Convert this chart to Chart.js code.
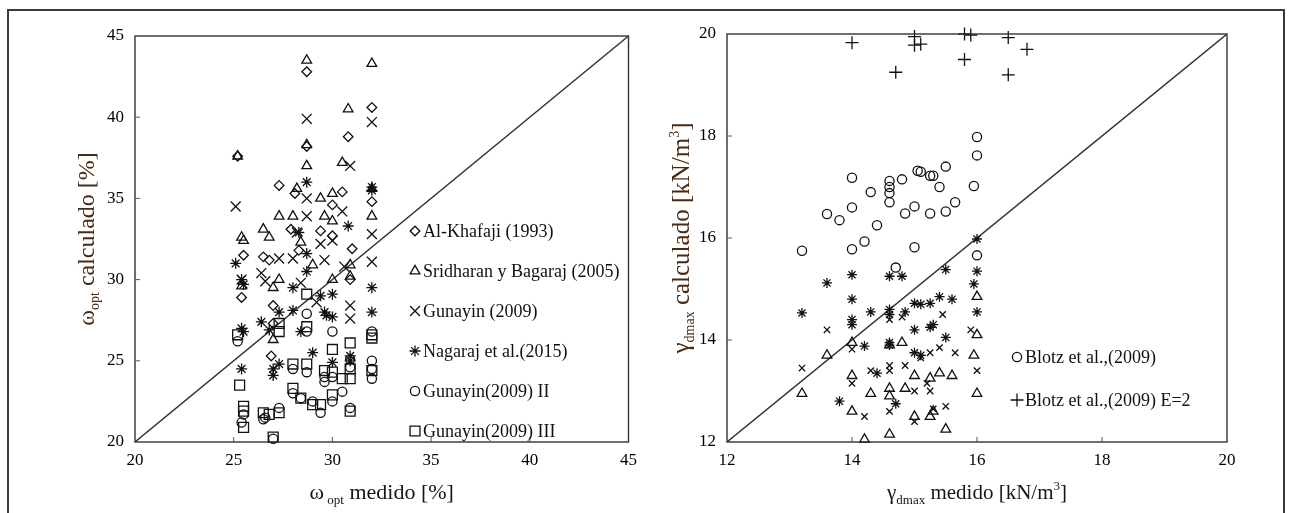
<!DOCTYPE html>
<html>
<head>
<meta charset="utf-8">
<script src="https://cdn.jsdelivr.net/npm/chart.js@4.4.1/dist/chart.umd.min.js"></script>
<style>
    body { margin: 0; background: #fff; }
    #wrap { position: relative; width: 1291px; height: 513px; overflow: hidden; background: #fff; }
    #frame { position: absolute; left: 7px; top: 9px; width: 1274px; height: 520px; border: 2px solid #3a3a3a; }
    canvas { position: absolute; top: 0; }
</style>
</head>
<body>
<div id="wrap">
    <div id="frame"></div>
    <canvas id="leftChart" width="645" height="513" style="left:0"></canvas>
    <canvas id="rightChart" width="646" height="513" style="left:645px"></canvas>
</div>
<script>
// ---- datos: grafico izquierdo (humedad optima) ----
const leftTicks = [20, 25, 30, 35, 40, 45];
const leftLabels = ['Al-Khafaji (1993)', 'Sridharan y Bagaraj (2005)', 'Gunayin (2009)',
    'Nagaraj et al.(2015)', 'Gunayin(2009) II', 'Gunayin(2009) III'];

const alKhafaji = [[25.2,37.6],[25.5,31.5],[25.4,28.9],[26.5,31.4],[26.8,31.2],[27.0,28.4],[26.9,25.3],
    [27.3,35.8],[27.9,33.1],[28.1,35.3],[28.3,31.8],[28.7,42.8],[28.7,38.2],[29.4,33.0],[30.0,34.6],
    [30.0,32.7],[30.5,35.4],[30.8,38.8],[31.0,31.9],[30.9,30.0],[32.0,40.6],[32.0,34.8],[27.0,27.3]];
const sridharan = [[25.2,37.6],[25.4,32.6],[25.5,32.4],[25.4,29.6],[26.5,33.1],[26.8,32.6],[27.0,29.5],
    [27.0,26.3],[27.3,33.9],[27.3,30.0],[28.0,33.9],[28.2,35.6],[28.4,32.3],[28.7,43.5],[28.7,38.3],
    [28.7,37.0],[29.0,30.9],[29.4,35.0],[29.6,33.9],[30.0,35.3],[30.0,33.6],[30.0,30.0],[30.5,37.2],
    [30.8,40.5],[30.9,30.9],[30.9,30.2],[32.0,43.3],[32.0,35.6],[32.0,33.9]];
const gunayin = [[25.1,34.5],[25.4,30.0],[26.4,30.4],[26.6,29.9],[27.3,31.3],[28.0,31.3],[28.2,32.9],
    [28.4,29.8],[28.7,39.9],[28.7,35.0],[28.7,33.9],[29.4,32.2],[29.6,31.2],[29.2,28.6],[30.0,32.4],
    [30.5,34.2],[30.6,30.8],[30.9,37.0],[30.9,28.4],[30.9,27.6],[32.0,39.7],[32.0,32.8],[32.0,31.1]];
const nagaraj = [[25.1,31.0],[25.4,30.0],[25.5,29.7],[25.4,27.0],[25.5,26.8],[25.4,24.5],[26.4,27.4],
    [26.8,26.9],[27.0,24.5],[27.0,24.1],[27.3,28.0],[27.3,24.8],[28.0,29.5],[28.0,28.1],[28.3,32.9],
    [28.4,26.8],[28.7,36.0],[28.7,31.6],[28.7,30.5],[29.0,25.5],[29.4,29.0],[29.6,28.0],[29.7,27.8],
    [30.0,29.1],[30.0,27.7],[30.0,24.9],[30.8,33.3],[30.9,25.3],[30.9,25.0],[32.0,35.7],[32.0,35.5],
    [32.0,29.5],[32.0,28.0]];
const gunayinII = [[25.2,26.2],[25.4,21.2],[25.5,21.7],[26.5,21.4],[26.6,21.5],[27.0,20.2],[27.3,22.1],
    [28.0,24.5],[28.0,23.0],[28.4,22.7],[28.7,27.9],[28.7,26.8],[28.7,24.3],[29.0,22.5],[29.4,21.8],
    [29.6,24.0],[29.6,23.7],[30.0,26.8],[30.0,24.0],[30.0,22.5],[30.5,23.1],[30.9,25.1],[30.9,24.6],
    [30.9,22.1],[32.0,26.8],[32.0,25.0],[32.0,24.5],[32.0,23.9]];
const gunayinIII = [[25.2,26.6],[25.3,23.5],[25.5,22.2],[25.5,21.9],[25.5,20.9],[26.5,21.8],[26.8,21.7],
    [27.0,20.3],[27.3,27.3],[27.3,26.8],[27.3,21.8],[28.0,24.8],[28.0,23.3],[28.4,22.7],[28.7,29.1],
    [28.7,27.1],[28.7,24.8],[29.0,22.3],[29.4,22.3],[29.6,24.4],[30.0,25.7],[30.0,24.3],[30.0,22.9],
    [30.5,23.9],[30.9,26.1],[30.9,24.5],[30.9,23.9],[30.9,21.9],[32.0,26.4],[32.0,26.6],[32.0,24.4]];
const leftDiagonal = [[20, 20], [45, 45]];

// ---- datos: grafico derecho (peso unitario seco maximo) ----
const rightTicks = [12, 14, 16, 18, 20];
const rightLabels = ['Blotz et al.,(2009)', 'Blotz et al.,(2009) E=2'];

const blotz = [[13.2,15.75],[13.6,16.47],[13.8,16.35],[14.0,16.6],[14.0,17.18],[14.0,15.78],[14.2,15.93],
    [14.3,16.9],[14.4,16.25],[14.6,17.12],[14.6,17.0],[14.6,16.88],[14.6,16.7],[14.7,15.42],[14.8,17.15],
    [14.85,16.48],[15.0,16.62],[15.0,15.82],[15.05,17.32],[15.1,17.3],[15.25,17.22],[15.3,17.22],
    [15.25,16.48],[15.4,17.0],[15.5,17.4],[15.5,16.52],[15.65,16.7],[15.95,17.02],[16.0,17.98],
    [16.0,17.62],[16.0,15.66]];
const blotzE2 = [[14.0,19.83],[14.7,19.25],[15.0,19.95],[15.0,19.78],[15.1,19.8],[15.8,20.0],[15.9,19.98],
    [15.8,19.5],[16.5,19.93],[16.5,19.2],[16.8,19.7]];
const rightStar = [[13.2,14.53],[13.6,15.12],[13.8,12.8],[14.0,15.28],[14.0,14.8],[14.0,14.4],[14.0,14.3],
    [14.2,13.88],[14.3,14.55],[14.4,13.35],[14.6,15.25],[14.6,14.6],[14.6,14.5],[14.6,13.95],[14.6,13.9],
    [14.7,12.75],[14.8,15.25],[14.85,14.55],[15.0,14.2],[15.0,13.75],[15.0,14.72],[15.1,14.7],[15.1,13.7],
    [15.25,14.25],[15.3,14.3],[15.25,14.72],[15.4,14.85],[15.5,15.38],[15.5,14.05],[15.6,14.8],
    [15.95,15.1],[16.0,15.98],[16.0,15.35],[16.0,14.55]];
const rightCross = [[13.2,13.45],[13.6,14.2],[14.0,13.82],[14.0,13.15],[14.2,12.5],[14.3,13.4],[14.6,13.5],
    [14.6,13.4],[14.6,12.6],[14.6,14.4],[14.8,14.45],[14.85,13.5],[15.0,13.0],[15.0,12.4],[15.1,13.65],
    [15.2,13.15],[15.25,13.75],[15.25,13.0],[15.3,12.65],[15.4,13.85],[15.45,14.5],[15.5,12.7],
    [15.65,13.75],[15.9,14.2],[16.0,13.4]];
const rightTri = [[13.2,12.95],[13.6,13.7],[14.0,13.3],[14.0,12.6],[14.0,13.95],[14.2,12.05],[14.3,12.95],
    [14.6,13.05],[14.6,12.9],[14.6,12.15],[14.6,13.9],[14.8,13.95],[14.85,13.05],[15.0,13.3],[15.0,12.5],
    [15.25,13.25],[15.25,12.5],[15.3,12.6],[15.4,13.35],[15.5,12.25],[15.6,13.3],[15.95,13.7],
    [16.0,14.85],[16.0,14.1],[16.0,12.95]];
const rightDiagonal = [[12, 12], [20, 20]];

const FONT = '"Liberation Serif", "Times New Roman", serif';
const INK = '#111';

function pts(arr) {
    return arr.map(p => ({ x: p[0], y: p[1] }));
}

function markers(label, arr, style, radius) {
    return {
        label: label,
        data: pts(arr),
        pointStyle: style,
        pointRadius: radius,
        pointHoverRadius: radius,
        pointBorderWidth: 1.3,
        pointBorderColor: INK,
        pointBackgroundColor: 'rgba(0,0,0,0)',
        showLine: false,
        clip: false
    };
}

function diagonal(arr) {
    return {
        label: '1:1',
        data: pts(arr),
        showLine: true,
        borderColor: '#333',
        borderWidth: 1.4,
        pointRadius: 0,
        order: 10
    };
}

// texto con subindices / superindices
function richText(ctx, parts, cx, cy, angle, color) {
    ctx.save();
    ctx.translate(cx, cy);
    ctx.rotate(angle);
    ctx.textBaseline = 'alphabetic';
    ctx.textAlign = 'left';
    let total = 0;
    const widths = parts.map(p => {
        ctx.font = `${p.size}px ${FONT}`;
        const w = ctx.measureText(p.t).width;
        total += w;
        return w;
    });
    let x = -total / 2;
    parts.forEach((p, i) => {
        ctx.font = `${p.size}px ${FONT}`;
        ctx.fillStyle = color;
        ctx.fillText(p.t, x, p.dy || 0);
        x += widths[i];
    });
    ctx.restore();
}

function decorPlugin(cfg) {
    return {
        id: 'decor',
        afterDraw(chart) {
            const ctx = chart.ctx;
            const a = chart.chartArea;
            const xs = chart.scales.x, ys = chart.scales.y;
            ctx.save();
            // marco del area de trazado
            ctx.strokeStyle = '#333';
            ctx.lineWidth = 1.4;
            ctx.strokeRect(a.left, a.top, a.right - a.left, a.bottom - a.top);
            // marcas hacia dentro
            ctx.lineWidth = 1;
            ctx.strokeStyle = '#555';
            cfg.ticks.slice(1, -1).forEach(v => {
                const px = xs.getPixelForValue(v);
                const py = ys.getPixelForValue(v);
                ctx.beginPath();
                ctx.moveTo(px, a.bottom); ctx.lineTo(px, a.bottom - 5);
                ctx.moveTo(a.left, py); ctx.lineTo(a.left + 5, py);
                ctx.stroke();
            });
            // titulos de ejes
            richText(ctx, cfg.yTitle, cfg.yTitleX, (a.top + a.bottom) / 2, -Math.PI / 2, '#4a2a14');
            richText(ctx, cfg.xTitle, (a.left + a.right) / 2, cfg.xTitleY, 0, '#1c1410');
            // leyenda
            cfg.legend.forEach((item, i) => {
                const y = cfg.legendY + i * cfg.legendStep;
                const ds = chart.data.datasets[i];
                ctx.strokeStyle = INK;
                ctx.fillStyle = 'rgba(0,0,0,0)';
                ctx.lineWidth = 1.3;
                Chart.helpers.drawPoint(ctx, {
                    pointStyle: ds.pointStyle,
                    radius: ds.pointRadius,
                    rotation: 0,
                    borderWidth: 1.3
                }, cfg.legendX, y);
                ctx.fillStyle = '#111';
                ctx.font = `18px ${FONT}`;
                ctx.textAlign = 'left';
                ctx.textBaseline = 'middle';
                ctx.fillText(item, cfg.legendX + 8, y + 1);
            });
            ctx.restore();
        }
    };
}

function makeChart(id, datasets, opts) {
    const tickFont = { family: FONT, size: 17 };
    return new Chart(document.getElementById(id), {
        type: 'scatter',
        data: { datasets: datasets },
        options: {
            responsive: false,
            animation: false,
            devicePixelRatio: 1,
            layout: { padding: { left: 0, top: opts.top, right: opts.right, bottom: 0 } },
            plugins: { legend: { display: false }, tooltip: { enabled: false } },
            scales: {
                x: {
                    type: 'linear',
                    min: opts.ticks[0],
                    max: opts.ticks[opts.ticks.length - 1],
                    afterBuildTicks: s => { s.ticks = opts.ticks.map(v => ({ value: v })); },
                    afterFit: s => { s.height = 513 - opts.bottom; },
                    grid: { display: false, drawTicks: false },
                    border: { display: false },
                    ticks: { font: tickFont, color: '#000', padding: 8, maxRotation: 0 }
                },
                y: {
                    type: 'linear',
                    min: opts.ticks[0],
                    max: opts.ticks[opts.ticks.length - 1],
                    afterBuildTicks: s => { s.ticks = opts.ticks.map(v => ({ value: v })); },
                    afterFit: s => { s.width = opts.left; },
                    grid: { display: false, drawTicks: false },
                    border: { display: false },
                    ticks: { font: tickFont, color: '#000', padding: 11 }
                }
            }
        },
        plugins: [decorPlugin(opts)]
    });
}

makeChart('leftChart', [
    markers(leftLabels[0], alKhafaji, 'rectRot', 4.8),
    markers(leftLabels[1], sridharan, 'triangle', 5.6),
    markers(leftLabels[2], gunayin, 'crossRot', 7),
    markers(leftLabels[3], nagaraj, 'star', 5.5),
    markers(leftLabels[4], gunayinII, 'circle', 4.6),
    markers(leftLabels[5], gunayinIII, 'rect', 7),
    diagonal(leftDiagonal)
], {
    ticks: leftTicks,
    left: 135, right: 645 - 631, top: 36, bottom: 442,
    yTitle: [{ t: 'ω', size: 24 }, { t: 'opt', size: 14, dy: 5 }, { t: ' calculado [%]', size: 24 }],
    yTitleX: 94,
    xTitle: [{ t: 'ω', size: 22 }, { t: ' opt', size: 13, dy: 5 }, { t: ' medido [%]', size: 22 }],
    xTitleY: 499,
    legend: leftLabels,
    legendX: 415, legendY: 231, legendStep: 40
});

makeChart('rightChart', [
    markers(rightLabels[0], blotz, 'circle', 4.6),
    markers(rightLabels[1], blotzE2, 'cross', 6.5),
    markers('asteriscos', rightStar, 'star', 5),
    markers('cruces', rightCross, 'crossRot', 4.5),
    markers('triangulos', rightTri, 'triangle', 5.6),
    diagonal(rightDiagonal)
], {
    ticks: rightTicks,
    left: 727 - 645, right: 646 - (1227 - 645), top: 34, bottom: 442,
    yTitle: [{ t: 'γ', size: 25 }, { t: 'dmax', size: 14, dy: 5 }, { t: ' calculado [kN/m', size: 25 },
        { t: '3', size: 14, dy: -10 }, { t: ']', size: 25 }],
    yTitleX: 44,
    xTitle: [{ t: 'γ', size: 21 }, { t: 'dmax', size: 13, dy: 5 }, { t: ' medido [kN/m', size: 21 },
        { t: '3', size: 13, dy: -9 }, { t: ']', size: 21 }],
    xTitleY: 499,
    legend: rightLabels,
    legendX: 1017 - 645, legendY: 357, legendStep: 43
});
</script>
</body>
</html>
